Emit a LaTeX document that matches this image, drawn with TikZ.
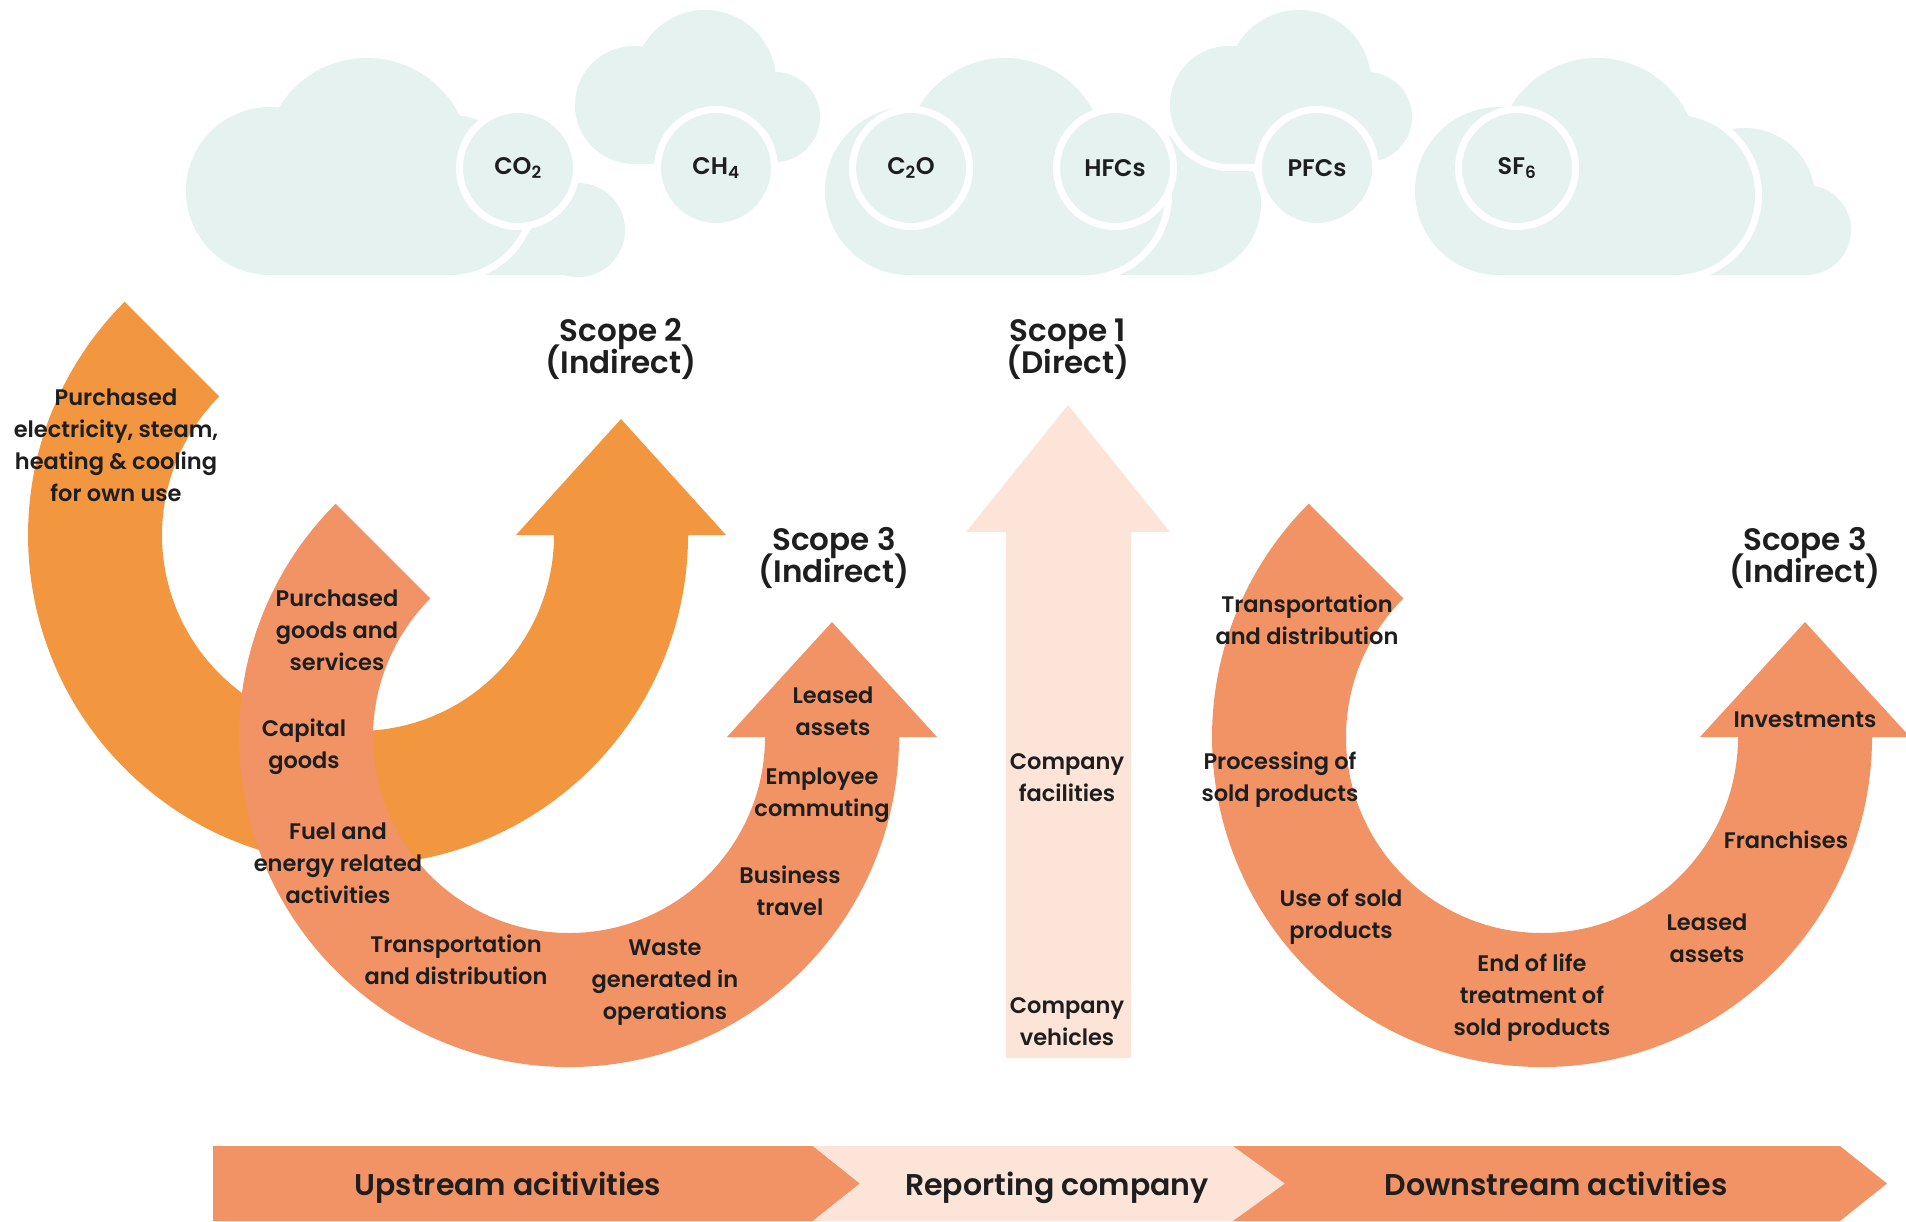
\documentclass[tikz,border=0pt]{standalone}
\usepackage{fontspec}
\setmainfont{Poppins}[BoldFont={Poppins SemiBold}]
\definecolor{orangeD}{HTML}{F39640}
\definecolor{salmon}{HTML}{F29366}
\definecolor{peach}{HTML}{FDE4D8}
\definecolor{cloud}{HTML}{E5F2EF}
\definecolor{ink}{HTML}{1E1E1E}
\newcommand\tightlines{\lineskiplimit=-50pt\relax}
\tikzset{
  halo/.style={draw=white, line width=14pt},
  lbl/.style={text=ink, font={\bfseries\fontsize{22.5}{32}\selectfont\tightlines}, align=center, inner sep=0pt},
  scopehead/.style={text=ink, font={\bfseries\fontsize{31}{31.5}\selectfont\tightlines}, align=center, inner sep=0pt},
  bandtext/.style={text=ink, font={\bfseries\fontsize{30}{36}\selectfont}, inner sep=0pt, anchor=base},
  gas/.style={circle, fill=cloud, draw=white, line width=7pt, minimum size=117pt, inner sep=0pt,
    text=ink, font={\bfseries\fontsize{24}{28}\selectfont}},
}
\begin{document}
\begin{tikzpicture}[x=1pt,y=1pt,yscale=-1]
\useasboundingbox (0,0) rectangle (1906,1221);

% ---------- clouds ----------
% cloud 1
\fill[cloud] (578,230) circle[radius=47];
\fill[cloud] (470,230) rectangle (578,275);
\path[halo] (270,191) circle[radius=84] (367,161) circle[radius=103] (450,195) circle[radius=80] (270,150) rectangle (450,275);
\fill[cloud] (270,191) circle[radius=84];
\fill[cloud] (367,161) circle[radius=103];
\fill[cloud] (450,195) circle[radius=80];
\fill[cloud] (270,150) rectangle (450,275);
% cloud 2
\path[halo] (634,105) circle[radius=59] (705,81) circle[radius=71] (775,117) circle[radius=45] (634,100) rectangle (775,164);
\fill[cloud] (634,105) circle[radius=59];
\fill[cloud] (705,81) circle[radius=71];
\fill[cloud] (775,117) circle[radius=45];
\fill[cloud] (634,100) rectangle (775,164);
% cloud 3
\fill[cloud] (1190,204) circle[radius=71];
\fill[cloud] (1100,205) rectangle (1190,275);
\path[halo] (909,191) circle[radius=84] (1005,158) circle[radius=100] (1085,195) circle[radius=80] (909,150) rectangle (1085,275);
\fill[cloud] (909,191) circle[radius=84];
\fill[cloud] (1005,158) circle[radius=100];
\fill[cloud] (1085,195) circle[radius=80];
\fill[cloud] (909,150) rectangle (1085,275);
% cloud 4
\path[halo] (1229,105) circle[radius=59] (1299,82) circle[radius=72] (1367,117) circle[radius=45] (1229,100) rectangle (1367,164);
\fill[cloud] (1229,105) circle[radius=59];
\fill[cloud] (1299,82) circle[radius=72];
\fill[cloud] (1367,117) circle[radius=45];
\fill[cloud] (1229,100) rectangle (1367,164);
% cloud 5
\fill[cloud] (1745,198) circle[radius=70];
\fill[cloud] (1806,230) circle[radius=45];
\fill[cloud] (1680,200) rectangle (1806,275);
\path[halo] (1499,191) circle[radius=84] (1597,159) circle[radius=101] (1675,195) circle[radius=80] (1499,150) rectangle (1675,275);
\fill[cloud] (1499,191) circle[radius=84];
\fill[cloud] (1597,159) circle[radius=101];
\fill[cloud] (1675,195) circle[radius=80];
\fill[cloud] (1499,150) rectangle (1675,275);

% gas circles
\node[gas] (co2) at (518,168) {CO\textsubscript{2}};
\node[gas] (ch4) at (716,168) {CH\textsubscript{4}};
\node[gas] (c2o) at (911,168) {C\textsubscript{2}O};
\node[gas] (hfc) at (1115,168) {HFCs};
\node[gas] (pfc) at (1317,168) {PFCs};
\node[gas] (sf6) at (1517,168) {SF\textsubscript{6}};

% ---------- arrows ----------
% Scope 2 (dark orange)
\fill[orangeD] (124.7,301.7) arc[start angle=225,end angle=0,radius=330]
  -- (726,535) -- (621,419) -- (516,535) -- (554,535)
  arc[start angle=0,end angle=225,radius=196] -- cycle;
% Scope 3 upstream
\fill[salmon] (335.7,503.7) arc[start angle=225,end angle=0,radius=330]
  -- (937,737) -- (832,622) -- (727,737) -- (765,737)
  arc[start angle=0,end angle=225,radius=196] -- cycle;
% Scope 1
\fill[peach] (1006,1058) -- (1006,532) -- (966,532) -- (1068,405) -- (1170,532)
  -- (1131,532) -- (1131,1058) -- cycle;
% Scope 3 downstream
\fill[salmon] (1308.7,503.7) arc[start angle=225,end angle=0,radius=330]
  -- (1910,737) -- (1805,622) -- (1700,737) -- (1738,737)
  arc[start angle=0,end angle=225,radius=196] -- cycle;

% ---------- bottom band ----------
\fill[salmon] (213,1146) -- (813,1146) -- (860,1183.5) -- (813,1221) -- (213,1221) -- cycle;
\fill[peach] (813,1146) -- (1233,1146) -- (1285,1183.5) -- (1233,1221) -- (813,1221) -- (860,1183.5) -- cycle;
\fill[salmon] (1233,1146) -- (1840,1146) -- (1887,1183.5) -- (1840,1221) -- (1233,1221) -- (1285,1183.5) -- cycle;

\node[bandtext] (up) at (508,1195) {Upstream acitivities};
\node[bandtext] (rep) at (1057,1195) {Reporting company};
\node[bandtext] (down) at (1556,1195) {Downstream activities};

% ---------- headings ----------
\node[scopehead] (s2) at (621,349) {Scope 2\\(Indirect)};
\node[scopehead] (s1) at (1068,349) {Scope 1\\(Direct)};
\node[scopehead] (s3a) at (834,558) {Scope 3\\(Indirect)};
\node[scopehead] (s3b) at (1805,558) {Scope 3\\(Indirect)};

% ---------- labels ----------
\node[lbl] (l1) at (116,445) {Purchased\\electricity, steam,\\heating \& cooling\\for own use};
\node[lbl] (l2) at (337,630) {Purchased\\goods and\\services};
\node[lbl] (l3) at (304,747) {Capital\\goods};
\node[lbl] (l4) at (338,863) {Fuel and\\energy related\\activities};
\node[lbl] (l5) at (456,960) {Transportation\\and distribution};
\node[lbl] (l6) at (665,983) {Waste\\generated in\\operations};
\node[lbl] (l7) at (790,891) {Business\\travel};
\node[lbl] (l8) at (822,795) {Employee\\commuting};
\node[lbl] (l9) at (833,711) {Leased\\assets};
\node[lbl] (c1) at (1067,778) {Company\\facilities};
\node[lbl] (c2) at (1067,1022) {Company\\vehicles};
\node[lbl] (r1) at (1307,620) {Transportation\\and distribution};
\node[lbl] (r2) at (1280,780) {Processing of\\sold products};
\node[lbl] (r3) at (1341,917) {Use of sold\\products};
\node[lbl] (r4) at (1532,998) {End of life\\treatment of\\sold products};
\node[lbl] (r5) at (1707,938) {Leased\\assets};
\node[lbl] (r6) at (1786,840) {Franchises};
\node[lbl] (r7) at (1805,720) {Investments};
\end{tikzpicture}
\end{document}
